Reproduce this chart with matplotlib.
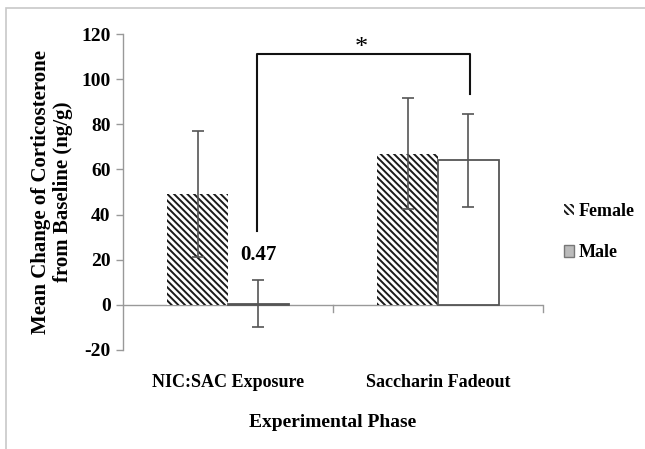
import matplotlib
matplotlib.use("Agg")
import matplotlib.pyplot as plt
from matplotlib.patches import Rectangle, Patch
import numpy as np

categories = ["NIC:SAC Exposure", "Saccharin Fadeout"]
female = [49.2, 67.0]
female_err = [28.0, 24.6]
male = [0.47, 64.0]
male_err = [10.5, 20.5]
yticks = [-20, 0, 20, 40, 60, 80, 100, 120]

plt.rcParams['font.family'] = ['Liberation Serif', 'DejaVu Serif']
plt.rcParams['font.weight'] = 'bold'
plt.rcParams['hatch.linewidth'] = 1.4

fig = plt.figure(figsize=(6.45, 4.49), dpi=100)
fig.patches.append(Rectangle((6/645, -0.1), 2.0, 1 - 8/449 + 0.1, transform=fig.transFigure,
                             fill=False, edgecolor='#c8c8c8', linewidth=1.2))
ax = fig.add_axes([123/645, 1 - 350/449, (543 - 123)/645, (350 - 34)/449])

x = np.arange(len(categories))
w = 0.29
ax.bar(x - w/2, female, w, color='white', edgecolor='#1a1a1a', hatch='\\\\\\\\\\', linewidth=0, zorder=2)
ax.bar(x + w/2, male, w, color='white', edgecolor='#555555', linewidth=1.3, zorder=2)
ax.errorbar(x - w/2, female, yerr=female_err, fmt='none', ecolor='#555555', elinewidth=1.2,
            capsize=4, capthick=1.2, zorder=3)
ax.errorbar(x + w/2, male, yerr=male_err, fmt='none', ecolor='#555555', elinewidth=1.2,
            capsize=4, capthick=1.2, zorder=3)

ax.set_xlim(-0.5, 1.5)
ax.set_ylim(-20, 120)
ax.set_yticks(yticks)
ax.set_yticklabels([str(v) for v in yticks], fontsize=14, fontweight='bold')
ax.tick_params(axis='y', length=5, width=1, color='#999999', pad=4)
ax.set_xticks([])
for s in ['top', 'right', 'bottom']:
    ax.spines[s].set_visible(False)
ax.spines['left'].set_color('#999999')
ax.spines['left'].set_linewidth(1.0)

# x axis at zero with category boundary ticks
ax.axhline(0, color='#999999', linewidth=1.0, zorder=1)
for xb in [0.5, 1.5]:
    ax.plot([xb, xb], [0, -3], color='#999999', linewidth=1.0, clip_on=False)

for i, c in enumerate(categories):
    ax.text(x[i], -34.5, c, ha='center', va='center', fontsize=13, fontweight='bold')
ax.text(0.5, -52, "Experimental Phase", ha='center', va='center', fontsize=14, fontweight='bold')

ax.set_ylabel("Mean Change of Corticosterone\nfrom Baseline (ng/g)", fontsize=15, fontweight='bold',
              labelpad=6, linespacing=1.15)

# value label
ax.text(x[0] + w/2, 22.2, "0.47", ha='center', va='center', fontsize=15, fontweight='bold')

# significance bracket
bl, br = x[0] + w/2 - 0.005, x[1] + w/2 + 0.005
ax.plot([bl, bl, br, br], [32.6, 111, 111, 93.3], color='#111111', linewidth=1.5, clip_on=False)
ax.text((bl + br)/2 - 0.01, 114, "*", ha='center', va='center', fontsize=19, fontweight='normal')

# legend
handles = [Patch(facecolor='white', edgecolor='#1a1a1a', hatch='\\\\\\\\\\', linewidth=0),
           Patch(facecolor='#bbbbbb', edgecolor='#777777', linewidth=1.0)]
fig.legend(handles, ["Female", "Male"], loc='center left', bbox_to_anchor=(548/645, 1 - 232/449),
           frameon=False, handlelength=0.55, handleheight=0.6, handletextpad=0.25,
           labelspacing=1.35, prop={'weight': 'bold', 'size': 13})

fig.savefig("out.png", dpi=100)
